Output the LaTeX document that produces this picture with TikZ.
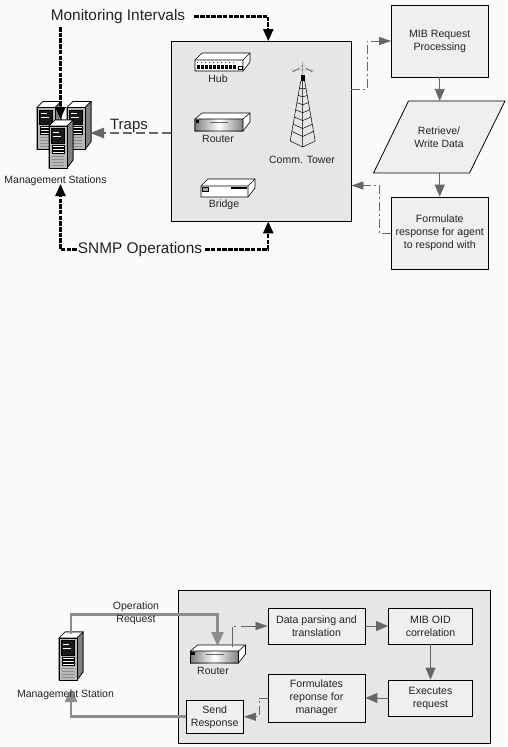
\documentclass[tikz,border=0pt]{standalone}
\usepackage{fontspec}
\setmainfont{Liberation Sans}
\usetikzlibrary{arrows.meta,calc}
\definecolor{pagebg}{HTML}{FAFAFA}
\definecolor{panel}{HTML}{E6E6E6}
\definecolor{inner}{HTML}{EFEFEF}
\definecolor{flow}{HTML}{666666}
\definecolor{ink}{HTML}{222222}
\definecolor{thickgray}{HTML}{8C8C8C}
\tikzset{
  x=1pt,y=-1pt,
  panelbox/.style={draw=black,line width=0.8pt,fill=panel,inner sep=0pt},
  stepbox/.style={draw=black,line width=0.8pt,fill=inner,inner sep=0pt,text=ink,align=center,font=\fontsize{10.6}{13}\selectfont},
  lbl/.style={text=ink,inner sep=0pt,align=center,font=\fontsize{10.5}{13}\selectfont},
  bigl/.style={text=ink,inner sep=0pt,font=\fontsize{15.4}{18}\selectfont},
  tipk/.style={-{Triangle[length=12pt,width=10pt]}},
  thickblack/.style={draw=black,line width=2.4pt,dash pattern=on 4.5pt off 1.2pt,tipk},
  trapline/.style={draw=flow,line width=2.4pt,dash pattern=on 9pt off 4pt,-{Triangle[length=14pt,width=10pt]}},
  flowline/.style={draw=flow,line width=0.9pt,-{Triangle[length=12pt,width=10pt]}},
  linkline/.style={draw=flow,line width=0.7pt,dash pattern=on 9pt off 3pt on 2pt off 3pt,-{Triangle[length=12pt,width=8pt]}},
  opline/.style={draw=thickgray,line width=2.8pt,-{Triangle[length=14pt,width=12pt]}},
  ic/.style={draw=black,line width=0.6pt},
  hubicon/.pic={
    \filldraw[ic,fill=white] (0,7)--(7,0)--(55,0)--(55,9)--(48,18)--(0,18)--cycle;
    \draw[ic] (0,7)--(48,7)--(55,0) (48,7)--(48,18);
    \foreach \i in {1,...,10}{\fill[black] (\i*4-2,12) rectangle +(3,4);\fill[black!70] (\i*4-2,9) rectangle +(1,1);}
    \draw[ic] (43,13) rectangle (47,16);
  },
  routericon/.pic={
    \filldraw[ic,fill=white] (0,6)--(7,0)--(55,0)--(55,9)--(48,18)--(0,18)--cycle;
    \shade[left color=black!50,right color=black!50,middle color=white] (0,6) rectangle (48,18);
    \draw[ic] (0,6)--(48,6)--(55,0) (48,6)--(48,18) (0,6) rectangle (48,18);
    \fill[black] (0.5,7) rectangle (4,10);
    \draw[black!60,line width=.4pt] (15,9)--(33,9);
  },
  bridgeicon/.pic={
    \filldraw[ic,fill=white] (0,7)--(7,0)--(54,0)--(54,9)--(47,18)--(0,18)--cycle;
    \draw[ic] (0,7)--(47,7)--(54,0) (47,7)--(47,18);
    \draw[ic,fill=black!35] (1,8) rectangle (7,12);
    \draw[black,line width=1.2pt] (30,9)--(46,9);
  },
  servericon/.pic={
    \filldraw[ic,fill=black!35] (0,6)--(6,0)--(24,0)--(24,40)--(18,48)--(0,48)--cycle;
    \filldraw[ic,fill=white] (0,6)--(6,0)--(24,0)--(18,6)--cycle;
    \filldraw[ic,fill=black!50] (18,6)--(24,0)--(24,40)--(18,48)--cycle;
    \fill[black!28] (0,6) rectangle (18,48);
    \draw[ic] (0,6) rectangle (18,48);
    \draw[ic,fill=black!90] (2.5,8.5) rectangle (15.5,23);
    \foreach \y in {25,28,31}{\fill[white] (3,\y) rectangle (15,\y+1.8);\draw[black,line width=.3pt] (3,\y) rectangle (15,\y+1.8);}
    \foreach \y in {36,39,42,45}{\draw[black!45,line width=.4pt] (3,\y)--(15,\y);}
    \draw[white,line width=.5pt] (4,12)--(10,12) (4,16)--(12,16);
  },
  towericon/.pic={
    \draw[black!80,line width=.4pt] (0,-21)--(0,0) (-12,-13)--(12,-13) (-10,-11)--(-3,-15) (10,-11)--(3,-15) (-3,-17)--(3,-17);
    \fill[black] (-2,-8) rectangle (2,-2);
    \draw[black,line width=.5pt] (-2,-2)--(-12.5,58)--(0,64)--(12.5,58)--(2,-2) (0,-2)--(0,64);
    \foreach \t in {.12,.24,...,.96}{
      \draw[black,line width=.5pt] ({-2-10.5*\t},{-2+60*\t})--(0,{-2+66*\t})--({2+10.5*\t},{-2+60*\t});}
  }
}
\begin{document}
\begin{tikzpicture}
\useasboundingbox (0,0) rectangle (507,747);
\fill[pagebg] (0,0) rectangle (507,747);

% upper panel
\node[panelbox,minimum width=179.5pt,minimum height=179.5pt] (agent) at (261.25,131.25) {};
\node[stepbox,minimum width=96.5pt,minimum height=72pt] (mib) at (439.75,41) {\raisebox{-1pt}{MIB Request}\\\raisebox{-1pt}{Processing}};
\filldraw[draw=black,line width=0.8pt,fill=inner] (373.5,173) -- (408.5,101) -- (505,101) -- (469.5,173) -- cycle;
\node[lbl,minimum width=96pt,minimum height=72pt] (retr) at (439,137) {Retrieve/\\Write Data};
\node[stepbox,minimum width=96.5pt,minimum height=72pt] (form) at (439.75,233) {Formulate\\response for agent\\to respond with};

% icons
\pic at (195,53) {hubicon};
\pic at (195,113) {routericon};
\pic at (201,179) {bridgeicon};
\pic at (302.7,83) {towericon};
\pic at (37,101.5) {servericon};
\pic at (67,101.5) {servericon};
\pic at (49,120) {servericon};
\pic at (59,632) {servericon};

\node[lbl] (hublbl) at (218,78.5) {Hub};
\node[lbl] (rtrlbl) at (218,139) {Router};
\node[lbl] (brlbl) at (224,205) {Bridge};
\node[lbl] (towlbl) at (302,160) {Comm. Tower};

% big labels
\node[bigl] (mon) at (118,16.5) {Monitoring Intervals};
\node[bigl] (snmp) at (140,249.5) {SNMP Operations};
\node[text=ink,inner sep=0pt,font=\fontsize{15}{17}\selectfont] (traps) at (129,126) {Traps};
\coordinate (stations) at (60.5,119);
\coordinate (stationsb) at (60.5,184);
\coordinate (monstart) at (60.5,27);
\coordinate (snmpcorner) at (60.5,250);
\coordinate (trapend) at (90,133);

% thick connectors
\draw[thickblack] (monstart) -- (stations);
\draw[thickblack] ([xshift=9pt]mon.east) -| ([xshift=7pt]agent.north);
\draw[thickblack] ([xshift=-1pt]snmp.west) -| (stationsb);
\draw[thickblack] ([xshift=3pt]snmp.east) -| ([xshift=7pt]agent.south);
\draw[trapline] (agent.west |- trapend) -- (trapend);

% flow connectors
\draw[linkline] (agent.east |- 0,89) -- (367,89) -- (367,41) -- (mib.west);
\draw[flowline] (mib.south) -- (retr.north -| mib.south);
\draw[flowline] (retr.south -| form.north) -- (form.north);
\draw[linkline] (form.west) -- (379.5,233) -- (379.5,185.5) -- (agent.east |- 0,185.5);

\node[lbl] (mgmt) at (55.5,181) {Management Stations};

% lower panel
\node[panelbox,minimum width=312pt,minimum height=153pt] (svc) at (334.5,666.5) {};
\pic at (190.5,645) {routericon};
\node[lbl] (rtr2) at (213,671) {Router};
\node[stepbox,minimum width=97pt,minimum height=36pt] (parse) at (316.5,626) {Data parsing and\\translation};
\node[stepbox,minimum width=84pt,minimum height=36pt] (oid) at (430.5,626) {MIB OID\\correlation};
\node[stepbox,minimum width=84pt,minimum height=36pt] (exec) at (430.5,698) {Executes\\request};
\node[stepbox,minimum width=97pt,minimum height=48pt] (fmgr) at (316.5,698) {Formulates\\reponse for\\manager};
\node[stepbox,minimum width=57.5pt,minimum height=32.5pt] (send) at (214.75,716.75) {Send\\Response};

\coordinate (rtrtop) at (217.5,646);
\coordinate (ms1) at (71,634);
\coordinate (ms2) at (71,688);
\coordinate (rtrout) at (232,647);

\draw[opline] (ms1) -- (71,614.5) -- (217.5,614.5) -- (rtrtop);
\draw[opline] (send.west) -| (ms2);
\draw[linkline,dash pattern=on 20pt off 3pt on 2pt off 5pt on 40pt] (rtrout) -- (232,626) -- (parse.west);
\draw[flowline] (parse.east) -- (oid.west);
\draw[flowline] (oid.south) -- (exec.north);
\draw[flowline] (exec.west) -- (fmgr.east);
\draw[linkline] (fmgr.west) -- (259,698) -- (259,716.75) -- (send.east);

\node[lbl] (oplbl) at (136,613.5) {Operation\\Request};
\node[lbl] (ms) at (65.5,695) {Management Station};
\end{tikzpicture}
\end{document}
